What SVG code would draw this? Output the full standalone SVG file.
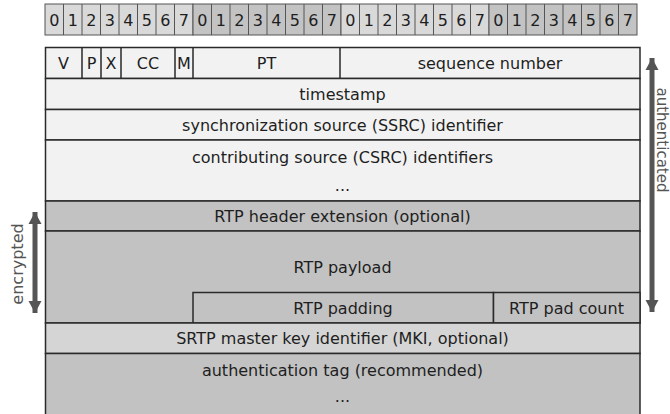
<svg xmlns="http://www.w3.org/2000/svg" width="670" height="414" viewBox="0 0 670 414">
<defs>
<style>
text{font-family:"DejaVu Sans","Liberation Sans",sans-serif;font-size:16px;fill:#1e1e1e;text-anchor:middle}
.bit{font-size:17px}
.bitL{fill:#d9d9d9;stroke:#555;stroke-width:1}
.bitD{fill:#c3c3c3;stroke:#555;stroke-width:1}
.w{fill:#f2f2f2;stroke:#2a2a2a;stroke-width:1.5}
.g{fill:#c2c2c2;stroke:#2a2a2a;stroke-width:1.5}
.m{fill:#d5d5d5;stroke:#2a2a2a;stroke-width:1.5}
.ln{stroke:#2a2a2a;stroke-width:1.5;fill:none}
.arr{stroke:#555;stroke-width:5;fill:none}
.side{fill:#555;font-size:16px}
</style>
<marker id="ah" markerUnits="userSpaceOnUse" markerWidth="14" markerHeight="14" refX="12" refY="7" orient="auto-start-reverse" viewBox="0 0 14 14">
<path d="M0,0.5 L12,7 L0,13.5 Z" fill="#555"/>
</marker>
</defs>

<g id="ruler">
<rect class="bitL" x="45" y="4" width="148" height="31"/>
<rect class="bitD" x="193" y="4" width="148" height="31"/>
<rect class="bitL" x="341" y="4" width="148" height="31"/>
<rect class="bitD" x="489" y="4" width="148" height="31"/>
<path class="ln" style="stroke:#555;stroke-width:1" d="M63.5,4V35M82,4V35M100.5,4V35M119,4V35M137.5,4V35M156,4V35M174.5,4V35M211.5,4V35M230,4V35M248.5,4V35M267,4V35M285.5,4V35M304,4V35M322.5,4V35M359.5,4V35M378,4V35M396.5,4V35M415,4V35M433.5,4V35M452,4V35M470.5,4V35M507.5,4V35M526,4V35M544.5,4V35M563,4V35M581.5,4V35M600,4V35M618.5,4V35"/>
<g class="bit">
<text x="54.25" y="26">0</text><text x="72.75" y="26">1</text><text x="91.25" y="26">2</text><text x="109.75" y="26">3</text><text x="128.25" y="26">4</text><text x="146.75" y="26">5</text><text x="165.25" y="26">6</text><text x="183.75" y="26">7</text>
<text x="202.25" y="26">0</text><text x="220.75" y="26">1</text><text x="239.25" y="26">2</text><text x="257.75" y="26">3</text><text x="276.25" y="26">4</text><text x="294.75" y="26">5</text><text x="313.25" y="26">6</text><text x="331.75" y="26">7</text>
<text x="350.25" y="26">0</text><text x="368.75" y="26">1</text><text x="387.25" y="26">2</text><text x="405.75" y="26">3</text><text x="424.25" y="26">4</text><text x="442.75" y="26">5</text><text x="461.25" y="26">6</text><text x="479.75" y="26">7</text>
<text x="498.25" y="26">0</text><text x="516.75" y="26">1</text><text x="535.25" y="26">2</text><text x="553.75" y="26">3</text><text x="572.25" y="26">4</text><text x="590.75" y="26">5</text><text x="609.25" y="26">6</text><text x="627.75" y="26">7</text>
</g>
</g>

<g id="row-header">
<rect class="w" x="45.5" y="47.5" width="594.5" height="31"/>
<path class="ln" d="M82,47.5V78.5M101,47.5V78.5M121,47.5V78.5M175,47.5V78.5M193,47.5V78.5M340,47.5V78.5"/>
<text x="63.5" y="69">V</text>
<text x="91.5" y="69">P</text>
<text x="111" y="69">X</text>
<text x="148" y="69">CC</text>
<text x="184" y="69">M</text>
<text x="266.5" y="69">PT</text>
<text x="490" y="69">sequence number</text>
</g>

<g id="timestamp">
<rect class="w" x="45.5" y="78.5" width="594.5" height="31"/>
<text x="342.5" y="100">timestamp</text>
</g>

<g id="ssrc">
<rect class="w" x="45.5" y="109.5" width="594.5" height="30.5"/>
<text x="342.5" y="131">synchronization source (SSRC) identifier</text>
</g>

<g id="csrc">
<rect class="w" x="45.5" y="140" width="594.5" height="61"/>
<text x="342.5" y="163">contributing source (CSRC) identifiers</text>
<text x="342.5" y="191">...</text>
</g>

<g id="header-ext">
<rect class="g" x="45.5" y="201" width="594.5" height="30"/>
<text x="342.5" y="222">RTP header extension (optional)</text>
</g>

<g id="payload">
<rect class="g" x="45.5" y="231" width="594.5" height="92"/>
<text x="342.5" y="273">RTP payload</text>
</g>

<g id="padding">
<rect class="g" x="193" y="292.5" width="300.5" height="30.5"/>
<text x="343" y="314">RTP padding</text>
</g>

<g id="pad-count">
<rect class="g" x="493.5" y="292.5" width="146.5" height="30.5"/>
<text x="566.5" y="314">RTP pad count</text>
</g>

<g id="mki">
<rect class="m" x="45.5" y="323" width="594.5" height="30.5"/>
<text x="342.5" y="344">SRTP master key identifier (MKI, optional)</text>
</g>

<g id="auth-tag">
<rect class="g" x="45.5" y="353.5" width="594.5" height="62"/>
<text x="342.5" y="376">authentication tag (recommended)</text>
<text x="342.5" y="402">...</text>
</g>

<g id="connectors">
<line class="arr" x1="35" y1="212" x2="35" y2="313" marker-start="url(#ah)" marker-end="url(#ah)"/>
<line class="arr" x1="652" y1="58" x2="652" y2="312" marker-start="url(#ah)" marker-end="url(#ah)"/>
</g>

<g id="labels">
<text class="side" transform="translate(23,264) rotate(-90)">encrypted</text>
<text class="side" style="font-size:15px" transform="translate(657,140) rotate(90)">authenticated</text>
</g>
</svg>
